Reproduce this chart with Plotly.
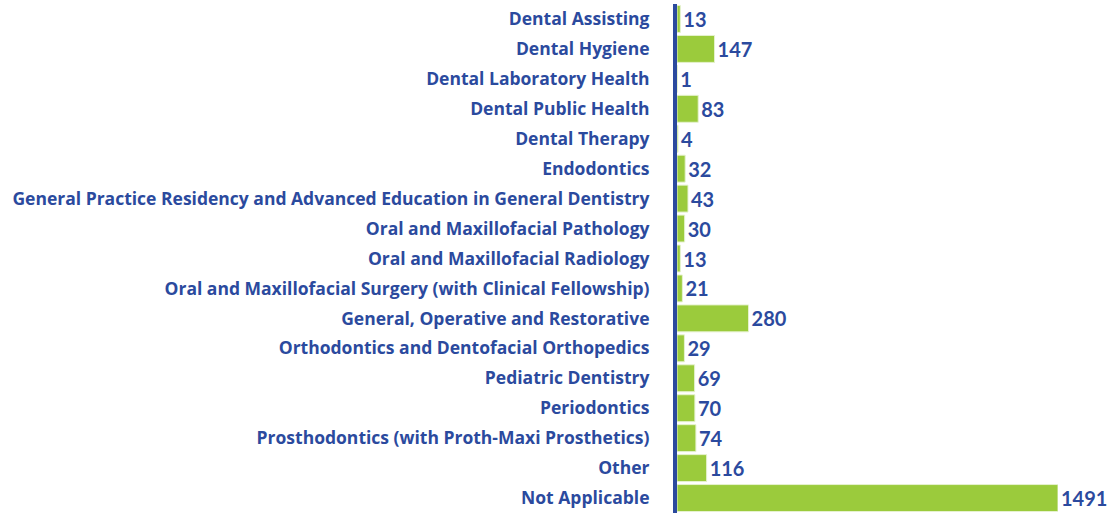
import plotly.graph_objects as go

categories = [
    "Dental Assisting",
    "Dental Hygiene",
    "Dental Laboratory Health",
    "Dental Public Health",
    "Dental Therapy",
    "Endodontics",
    "General Practice Residency and Advanced Education in General Dentistry",
    "Oral and Maxillofacial Pathology",
    "Oral and Maxillofacial Radiology",
    "Oral and Maxillofacial Surgery (with Clinical Fellowship)",
    "General, Operative and Restorative",
    "Orthodontics and Dentofacial Orthopedics",
    "Pediatric Dentistry",
    "Periodontics",
    "Prosthodontics (with Proth-Maxi Prosthetics)",
    "Other",
    "Not Applicable",
]
values = [13, 147, 1, 83, 4, 32, 43, 30, 13, 21, 280, 29, 69, 70, 74, 116, 1491]

BLUE = "#2b4a9e"
GREEN = "#9bcb3c"

fig = go.Figure(
    go.Bar(
        x=values,
        y=categories,
        orientation="h",
        marker=dict(color=GREEN, line=dict(color="#e6f2cf", width=1)),
        text=[str(v) for v in values],
        textposition="outside",
        textfont=dict(family="Lato", size=20, color=BLUE, weight="bold"),
        cliponaxis=False,
    )
)

fig.update_layout(
    width=1110,
    height=513,
    margin=dict(l=677, r=52, t=4, b=0),
    paper_bgcolor="white",
    plot_bgcolor="white",
    bargap=0.1,
    showlegend=False,
    xaxis=dict(
        range=[0, 1491],
        showgrid=False,
        zeroline=False,
        showticklabels=False,
        showline=False,
    ),
    yaxis=dict(
        categoryorder="array",
        categoryarray=categories,
        range=[16.5, -0.5],
        showgrid=False,
        zeroline=False,
        showline=True,
        linecolor=BLUE,
        linewidth=4,
        ticks="",
        ticklabelstandoff=20,
        tickfont=dict(family="Open Sans", size=17.5, color=BLUE, weight="bold"),
    ),
)

fig.write_html(
    "out.html",
    config={"displayModeBar": False},
    post_script="document.body.style.margin='0';document.body.style.overflow='hidden';",
)
